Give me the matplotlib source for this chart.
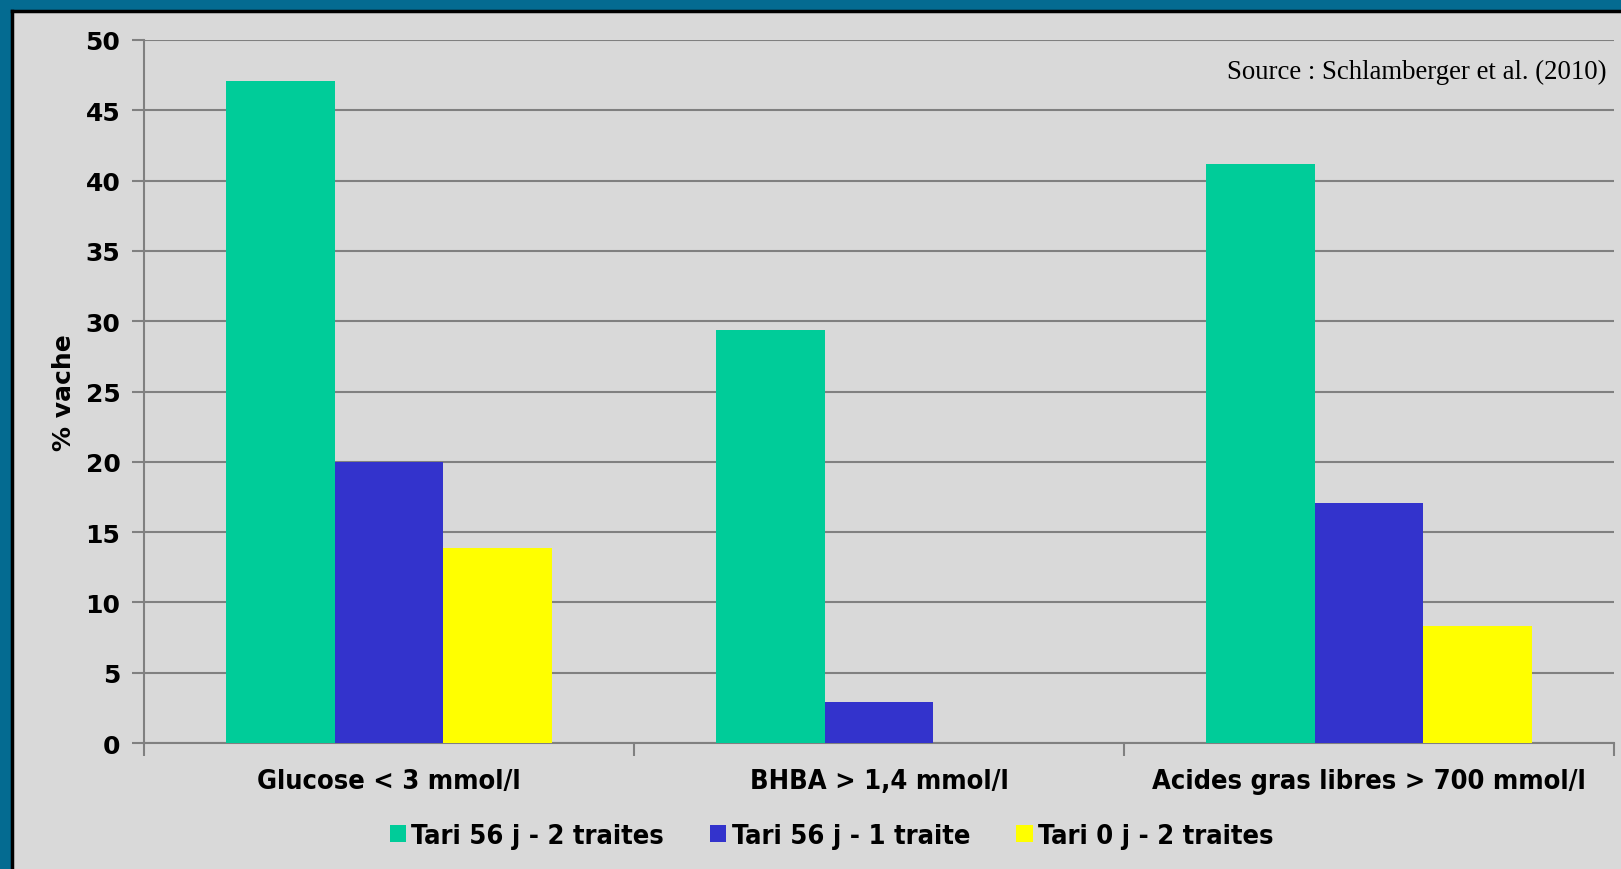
import matplotlib
matplotlib.use("Agg")
import matplotlib.pyplot as plt
from matplotlib.patches import Rectangle
import numpy as np

# Data
categories = ["Glucose < 3 mmol/l", "BHBA > 1,4 mmol/l", "Acides gras libres > 700 mmol/l"]
series_names = ["Tari 56 j - 2 traites", "Tari 56 j - 1 traite", "Tari 0 j - 2 traites"]
tari56_2 = [47.1, 29.4, 41.2]
tari56_1 = [20.0, 2.9, 17.1]
tari0_2 = [13.9, 0.0, 8.3]
series_colors = ["#00cc99", "#3333cc", "#ffff00"]
y_ticks = [0, 5, 10, 15, 20, 25, 30, 35, 40, 45, 50]
source_text = "Source : Schlamberger et al. (2010)"
y_label = "% vache"

W, H = 1621, 870
fig = plt.figure(figsize=(W / 100, H / 100), dpi=100, facecolor="#046b91")

# Slide panel with black top/left border
fig.patches.append(Rectangle((13 / W, 0), 1 - 13 / W, 1 - 13 / H, transform=fig.transFigure,
                             facecolor="#d9d9d9", edgecolor="none", zorder=-2))
fig.lines.append(plt.Line2D([11.5 / W, 11.5 / W], [0, 1 - 11.5 / H], transform=fig.transFigure,
                            color="black", lw=2.5, zorder=-1))
fig.lines.append(plt.Line2D([11.5 / W, 1], [1 - 11.5 / H, 1 - 11.5 / H], transform=fig.transFigure,
                            color="black", lw=2.5, zorder=-1))

ax = fig.add_axes([144 / W, 1 - 744 / H, (1614 - 144) / W, (744 - 41) / H])
ax.set_facecolor("none")

x = np.arange(len(categories))
bw = 1 / 4.5
all_series = [tari56_2, tari56_1, tari0_2]
for i, (vals, name, col) in enumerate(zip(all_series, series_names, series_colors)):
    ax.bar(x + (i - 1) * bw, vals, width=bw, color=col, label=name, zorder=3)

ax.set_xlim(-0.5, len(categories) - 0.5)
ax.set_ylim(0, 50)
ax.set_yticks(y_ticks)
ax.yaxis.grid(True, color="#808080", lw=1.5, zorder=1)
ax.set_axisbelow(True)

for s in ["top", "right"]:
    ax.spines[s].set_visible(False)
for s in ["left", "bottom"]:
    ax.spines[s].set_color("#808080")
    ax.spines[s].set_linewidth(1.5)

cond = {"family": "DejaVu Sans", "weight": "bold", "stretch": "condensed", "size": 19.5}

ax.set_xticks(np.arange(-0.5, len(categories), 1.0))
ax.set_xticklabels([])
ax.set_xticks(x, minor=True)
ax.set_xticklabels(categories, minor=True, fontsize=cond["size"], fontweight="bold",
                   fontstretch="condensed", family="DejaVu Sans")
ax.tick_params(axis="x", which="major", length=9, width=1.5, color="#808080", direction="out")
ax.tick_params(axis="x", which="minor", length=0, pad=18)
ax.tick_params(axis="y", length=9, width=1.5, color="#808080", pad=8)
for lab in ax.get_yticklabels():
    lab.set_fontsize(18)
    lab.set_fontweight("bold")

ax.set_ylabel(y_label, fontsize=18, fontweight="bold", labelpad=7)

ax.text(0.995, 0.955, source_text, transform=ax.transAxes, ha="right", va="center",
        family="Liberation Serif", fontsize=19.3)

leg = fig.legend(loc="center", bbox_to_anchor=(0.513, 1 - 837 / H), ncol=3, frameon=False,
                 handlelength=0.6, handleheight=0.6, handletextpad=0.2, columnspacing=1.7,
                 prop=cond)

fig.savefig("out.png", dpi=100, facecolor=fig.get_facecolor())
